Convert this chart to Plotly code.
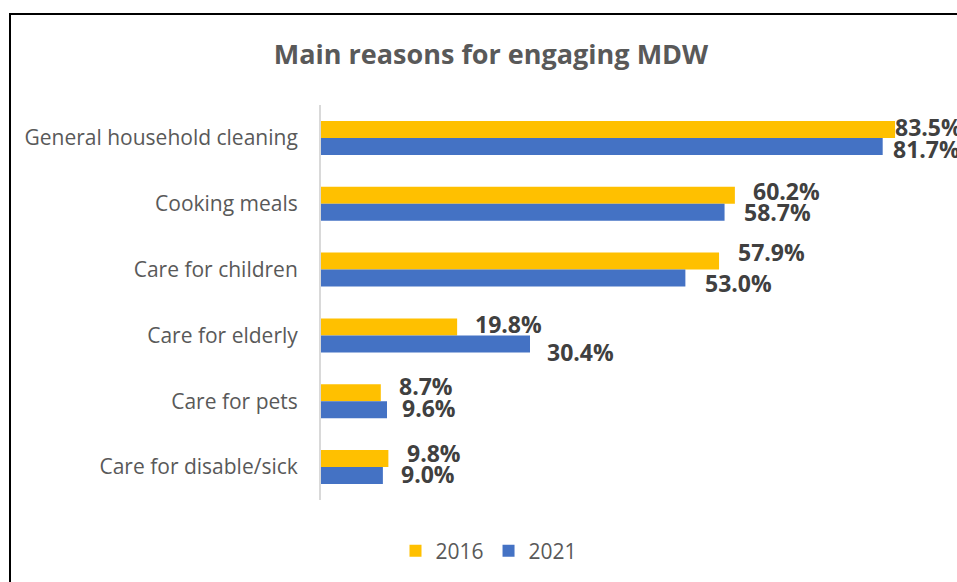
import plotly.graph_objects as go

# Survey results: main reasons households engage a migrant domestic worker (MDW)
categories = [
    "General household cleaning",
    "Cooking meals",
    "Care for children",
    "Care for elderly",
    "Care for pets",
    "Care for disable/sick",
]
share_2016 = [83.5, 60.2, 57.9, 19.8, 8.7, 9.8]
share_2021 = [81.7, 58.7, 53.0, 30.4, 9.6, 9.0]

# Label offsets (x in % units, y in category units) for each value label
label_dx_2016 = [-0.3, 2.4, 2.4, 2.3, 2.3, 2.4]
label_dy_2016 = [-0.17, -0.19, -0.26, -0.17, -0.23, -0.21]
label_dx_2021 = [1.2, 2.5, 2.6, 2.2, 1.9, 2.3]
label_dy_2021 = [0.17, 0.13, 0.20, 0.25, 0.10, 0.11]

W, H = 957, 582
L, R, T, B = 321, 0, 105, 82
px_per_pct = 6.875
x_max = (W - L - R) / px_per_pct

YELLOW = "#FFC000"
BLUE = "#4472C4"
GREY = "#595959"
LABEL = "#404040"
FONT = "Open Sans"

fig = go.Figure()
fig.add_trace(go.Bar(name="2016", y=categories, x=share_2016, orientation="h",
                     marker=dict(color=YELLOW, line=dict(width=0))))
fig.add_trace(go.Bar(name="2021", y=categories, x=share_2021, orientation="h",
                     marker=dict(color=BLUE, line=dict(width=0))))

annotations = []
for i, cat in enumerate(categories):
    for vals, dx, dy in ((share_2016, label_dx_2016, label_dy_2016),
                         (share_2021, label_dx_2021, label_dy_2021)):
        annotations.append(dict(
            x=vals[i] + dx[i], y=i + dy[i], xref="x", yref="y",
            text=f"{vals[i]:.1f}%", showarrow=False,
            xanchor="left", yanchor="middle",
            font=dict(family=FONT, size=23, color=LABEL, weight="bold"),
        ))

plot_w = W - L - R
plot_h = H - T - B


def px_x(p):
    return (p - L) / plot_w


def px_y(p):
    return (H - B - p) / plot_h


shapes = [
    # outer chart frame
    dict(type="rect", xref="paper", yref="paper",
         x0=px_x(10), x1=px_x(1100), y0=px_y(14), y1=px_y(700),
         line=dict(color="#000000", width=2), fillcolor="rgba(0,0,0,0)", layer="below"),
]

fig.update_layout(
    width=W, height=H,
    margin=dict(l=L, r=R, t=T, b=B, pad=0),
    paper_bgcolor="white", plot_bgcolor="white",
    barmode="group", bargap=0.483, bargroupgap=0,
    title=dict(text="<b>Main reasons for engaging MDW</b>", x=491 / W, xanchor="center",
               y=1 - 55 / H, yanchor="middle", xref="container", yref="container",
               font=dict(family=FONT, size=27, color=GREY)),
    xaxis=dict(range=[0, x_max], showgrid=False, zeroline=False, showticklabels=False,
               showline=False, ticks="", fixedrange=True),
    yaxis=dict(autorange="reversed", showgrid=False, zeroline=False,
               showline=True, linecolor="#D9D9D9", linewidth=2,
               ticks="", ticklabelstandoff=17,
               tickfont=dict(family=FONT, size=21, color=GREY)),
    legend=dict(orientation="h", x=px_x(489), xanchor="center", y=px_y(551), yanchor="middle",
                font=dict(family=FONT, size=21, color=GREY), traceorder="normal",
                itemwidth=30, bgcolor="rgba(0,0,0,0)"),
    annotations=annotations,
    shapes=shapes,
    showlegend=True,
)

fig.write_html("out.html")
